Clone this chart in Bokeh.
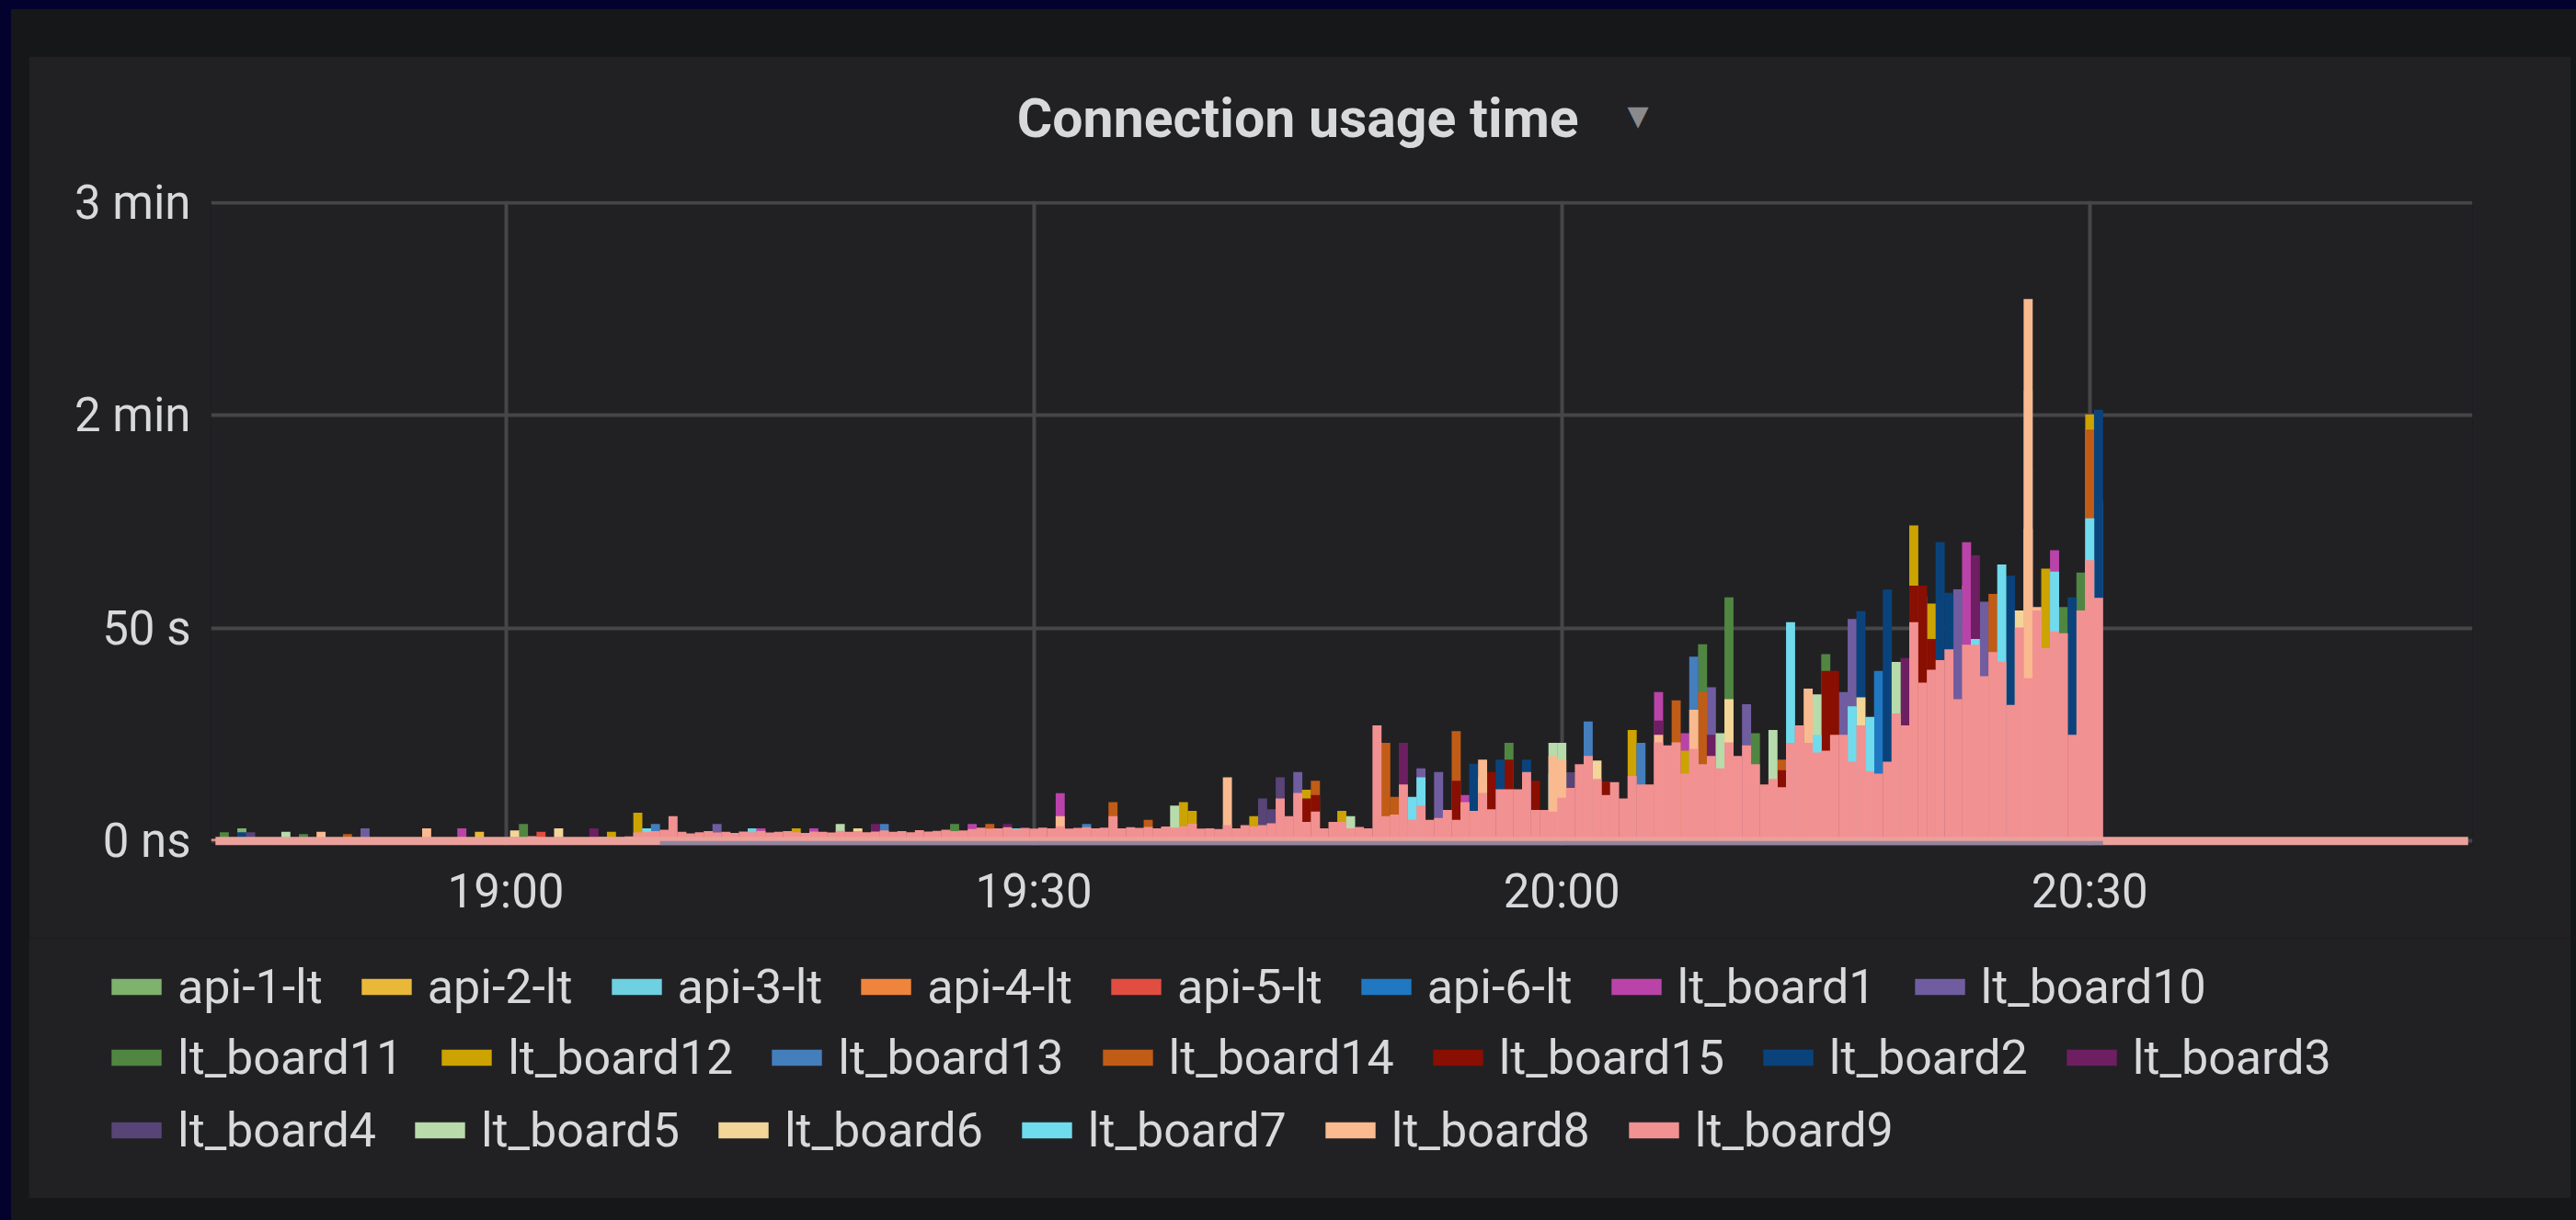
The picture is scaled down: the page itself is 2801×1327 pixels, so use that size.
import numpy as np
import pandas as pd
from bokeh.plotting import figure
from bokeh.layouts import column
from bokeh.models import (Range1d, FixedTicker, DatetimeTickFormatter, Legend,
                          LegendItem, Label, ColumnDataSource, GlobalInlineStyleSheet)
from bokeh.embed import file_html
from bokeh.resources import INLINE

# ----------------------------------------------------------------- data
chart_title = "Connection usage time"
day = "2020-06-01"
first_sample = "18:43:30"
sample_step_s = 30

x_tick_labels = ["19:00", "19:30", "20:00", "20:30"]
y_tick_values = [0, 60, 120, 180]
y_tick_labels = ["0 ns", "50 s", "2 min", "3 min"]

series_names = ["api-1-lt", "api-2-lt", "api-3-lt", "api-4-lt", "api-5-lt", "api-6-lt",
                "lt_board1", "lt_board10", "lt_board11", "lt_board12", "lt_board13",
                "lt_board14", "lt_board15", "lt_board2", "lt_board3", "lt_board4",
                "lt_board5", "lt_board6", "lt_board7", "lt_board8", "lt_board9"]
series_colors = ["#7EB26D", "#EAB839", "#6ED0E0", "#EF843C", "#E24D42", "#1F78C1",
                 "#BA43A9", "#705DA0", "#508642", "#CCA300", "#447EBC",
                 "#C15C17", "#890F02", "#0A437C", "#6D1F62", "#584477",
                 "#B7DBAB", "#F4D598", "#70DBED", "#F9BA8F", "#F29191"]

# lt_board9: one value (seconds) per 30 s sample, from 18:43:30 to 20:51:30
lt_board9 = [
    0.6, 0.8, 0.5, 0.9, 0.7, 0.5, 0.6, 0.4, 0.8, 0.6, 0.5, 0.7, 0.9, 0.6, 0.5, 0.8,
    0.6, 0.7, 0.5, 0.6, 0.8, 0.5, 0.7, 0.6, 1.0, 0.6, 0.5, 0.7, 0.8, 0.6, 0.7, 0.5,
    0.9, 0.6, 1.2, 1.0, 1.4, 0.8, 0.7, 1.1, 0.9, 0.8, 1.0, 0.9, 1.2, 1.0, 1.1, 1.3,
    2.4, 2.6, 2.8, 3.2, 7.0, 2.6, 2.2, 2.5, 2.8, 2.4, 2.6, 2.3, 2.7, 2.5, 2.9, 2.4,
    2.6, 2.8, 2.5, 2.3, 2.7, 2.6, 2.4, 2.9, 2.6, 2.8, 2.5, 2.7, 3.0, 2.6, 2.8, 2.5,
    3.1, 2.7, 2.9, 3.2, 2.8, 3.0,
    3.4, 3.8, 3.5, 3.6, 3.9, 3.4, 3.7, 3.5, 3.8, 3.6, 4.2, 3.5, 3.7, 3.9, 3.6, 3.8,
    7.0, 3.6, 3.9, 3.7, 4.0, 3.6, 4.1, 3.8, 4.2,
    4.9, 3.5, 3.6, 3.4, 4.5, 3.6, 4.5, 4.2, 4.5, 5.0, 12.0, 7.0, 13.6, 5.4, 8.3, 3.6,
    5.4, 5.4, 3.6, 4.0, 3.6, 32.6, 7.0, 7.5, 16.0, 6.0, 10.0, 6.0, 6.5, 8.8, 6.0, 11.0,
    8.5, 13.6, 9.0, 14.6, 14.6, 14.6, 19.5, 8.8, 8.8,
    8.3, 12.2, 15.0, 21.7, 24.0, 17.5, 13.0, 16.6, 12.0, 18.4, 16.0, 16.0, 27.8, 27.0,
    27.8, 19.0, 26.0, 21.7, 24.0, 20.5, 27.8, 24.0, 27.0, 21.7, 16.0, 17.5,
    15.2, 27.7, 32.6, 27.7, 25.0, 25.5, 30.0, 30.0, 22.4, 32.6, 19.7, 19.0, 22.4, 36.0,
    32.6, 61.7, 44.7, 48.3, 51.0, 54.1, 40.0, 55.4, 55.4, 46.5,
    53.3, 50.6, 38.4, 60.2, 45.9, 65.0, 54.4, 59.1, 58.6, 30.0, 65.0, 79.2, 68.6,
    0, 0, 0, 0, 0, 0, 0, 0, 0, 0, 0, 0, 0, 0, 0, 0, 0, 0, 0, 0, 0,
    0, 0, 0, 0, 0, 0, 0, 0, 0, 0, 0, 0, 0, 0, 0, 0, 0, 0, 0, 0, 0,
]

# other series: sample time -> seconds (samples not listed are ~0 / hidden)
api_1_lt = {"18:45:00": 3.6}
api_2_lt = {"18:58:30": 2.6}
api_3_lt = {"19:14:00": 3.6}
api_4_lt = {"20:23:00": 72.0}
api_5_lt = {"19:02:00": 2.6}
api_6_lt = {"20:18:00": 48.0}
lt_board1 = {"18:57:30": 3.6, "19:14:30": 3.6, "19:17:30": 3.6, "19:26:30": 4.8,
             "19:31:30": 13.5, "19:54:30": 13.0, "20:05:30": 42.0, "20:07:00": 30.4,
             "20:23:00": 84.3, "20:28:00": 82.0}
lt_board10 = {"18:52:00": 3.6, "19:12:00": 4.8, "19:45:00": 19.5, "19:52:00": 20.5,
              "19:53:00": 19.5, "20:08:30": 43.4, "20:10:30": 38.6, "20:15:30": 42.0,
              "20:16:00": 42.0, "20:16:30": 62.6, "20:22:30": 71.0, "20:24:00": 67.5,
              "20:30:30": 96.0}
lt_board11 = {"18:44:00": 2.5, "18:48:30": 2.0, "19:01:00": 4.8, "19:25:30": 4.8,
              "19:57:00": 27.7, "20:08:00": 55.5, "20:09:30": 68.7, "20:11:00": 30.4,
              "20:15:00": 52.7, "20:28:30": 66.0, "20:29:30": 75.7}
lt_board12 = {"19:06:00": 2.6, "19:07:30": 8.0, "19:16:30": 3.6, "19:38:30": 11.0,
              "19:39:00": 8.5, "19:42:30": 7.0, "19:45:30": 14.5, "19:47:30": 8.5,
              "20:04:00": 31.3, "20:07:00": 25.5, "20:20:00": 89.0, "20:21:00": 67.0,
              "20:27:30": 76.8, "20:30:00": 120.3}
lt_board13 = {"19:08:30": 4.8, "19:21:30": 4.8, "19:33:00": 4.8, "20:01:30": 33.7,
              "20:04:30": 27.7, "20:07:30": 52.0, "20:20:30": 69.0, "20:26:30": 127.0}
lt_board14 = {"18:51:00": 2.0, "19:27:30": 4.8, "19:34:30": 11.0, "19:36:30": 6.0,
              "19:46:00": 17.0, "19:50:00": 27.7, "19:50:30": 12.5, "19:54:00": 31.0,
              "20:06:30": 39.7, "20:08:00": 42.0, "20:12:30": 23.0, "20:24:30": 69.7,
              "20:30:00": 116.0}
lt_board15 = {"19:45:30": 12.0, "19:46:00": 13.0, "19:54:00": 17.0, "19:56:00": 19.5,
              "19:57:00": 23.0, "19:58:30": 17.0, "20:02:30": 16.8, "20:12:30": 20.0,
              "20:15:00": 48.0, "20:15:30": 48.0, "20:20:00": 72.0, "20:20:30": 72.0,
              "20:21:00": 57.0}
lt_board2 = {"18:45:00": 2.5, "19:55:00": 21.8, "19:56:30": 23.0, "19:58:00": 23.0,
             "20:17:00": 64.8, "20:18:30": 70.9, "20:21:30": 84.3, "20:22:00": 70.0,
             "20:25:30": 74.8, "20:29:00": 68.7, "20:30:30": 121.6}
lt_board3 = {"19:05:00": 3.6, "19:21:00": 4.8, "19:28:30": 4.8, "19:51:00": 27.7,
             "20:05:30": 34.0, "20:08:30": 30.0, "20:19:30": 51.6, "20:23:30": 80.6}
lt_board4 = {"18:45:30": 2.5, "19:43:00": 12.0, "19:43:30": 9.0, "19:44:00": 18.0,
             "20:00:30": 19.4, "20:01:00": 16.8, "20:26:30": 105.0}
lt_board5 = {"18:47:30": 2.6, "19:19:00": 4.8, "19:38:00": 10.0, "19:48:00": 7.0,
             "19:59:30": 27.7, "20:00:00": 27.7, "20:09:00": 30.4, "20:12:00": 31.3,
             "20:14:30": 41.4, "20:19:00": 50.5}
lt_board6 = {"19:00:30": 3.0, "19:03:00": 3.6, "19:20:00": 3.6, "19:37:30": 4.0,
             "20:02:00": 22.7, "20:09:30": 40.0, "20:17:00": 40.5, "20:26:00": 65.0,
             "20:26:30": 88.0}
lt_board7 = {"19:08:00": 3.6, "19:29:00": 3.6, "19:32:30": 3.6, "19:51:30": 12.5,
             "19:52:00": 18.0, "19:55:30": 18.0, "19:59:30": 19.0, "20:06:00": 26.6,
             "20:13:00": 61.7, "20:14:30": 30.0, "20:16:30": 38.0, "20:17:30": 35.0,
             "20:23:30": 57.0, "20:25:00": 78.0, "20:28:00": 76.0, "20:30:00": 91.0}
lt_board8 = {"18:49:30": 2.6, "18:55:30": 3.6, "19:31:30": 7.0, "19:41:00": 18.0,
             "19:55:30": 23.0, "19:59:30": 24.0, "20:00:00": 23.0, "20:05:30": 30.0,
             "20:07:30": 37.0, "20:14:00": 43.0, "20:26:30": 152.8, "20:27:00": 66.0}

sparse_series = {
    "api-1-lt": api_1_lt, "api-2-lt": api_2_lt, "api-3-lt": api_3_lt,
    "api-4-lt": api_4_lt, "api-5-lt": api_5_lt, "api-6-lt": api_6_lt,
    "lt_board1": lt_board1, "lt_board10": lt_board10, "lt_board11": lt_board11,
    "lt_board12": lt_board12, "lt_board13": lt_board13, "lt_board14": lt_board14,
    "lt_board15": lt_board15, "lt_board2": lt_board2, "lt_board3": lt_board3,
    "lt_board4": lt_board4, "lt_board5": lt_board5, "lt_board6": lt_board6,
    "lt_board7": lt_board7, "lt_board8": lt_board8,
}

# ----------------------------------------------------------------- build
PANEL = "#212124"
TEXT = "#d8d9da"
GRID = "#464649"

t0 = pd.Timestamp(f"{day} {first_sample}")
n = len(lt_board9)
step = pd.Timedelta(seconds=sample_step_s)
times = pd.DatetimeIndex([t0 + k * step for k in range(n)])


def to_ms(ts):
    return ts.value / 1e6


def densify(spikes):
    arr = np.zeros(n)
    for t, v in spikes.items():
        k = int((pd.Timestamp(f"{day} {t}") - t0) / step)
        arr[k] = v
    return arr


values = {name: densify(sp) for name, sp in sparse_series.items()}
values["lt_board9"] = np.array(lt_board9, dtype=float)

x_start = times[0] - step / 2
x_end = times[-1] + step / 2

p = figure(width=2764, height=959, x_axis_type="datetime",
           output_backend="svg", toolbar_location=None,
           x_range=Range1d(x_start, x_end), y_range=Range1d(-1.2, 180.5),
           min_border_left=198, min_border_right=107,
           min_border_top=157, min_border_bottom=101,
           background_fill_color=PANEL, border_fill_color=PANEL,
           outline_line_color=None)
p.frame_align = False
p.margin = (61, 0, 0, 31)
p.stylesheets = [GlobalInlineStyleSheet(css=(
    "html, body { margin: 0 !important; padding: 0 !important; }"
    "html { background: #161719; height: 100%;"
    " box-shadow: inset 12px 10px 0 0 #03022e; }"
    "body { background: transparent; }"))]

bar_w = sample_step_s * 1000 * 1.03
for name, color in zip(series_names, series_colors):
    vals = values[name]
    mask = vals > 0
    src = ColumnDataSource(dict(x=times[mask], top=vals[mask]))
    p.vbar(x="x", top="top", bottom=0, width=bar_w, source=src,
           fill_color=color, line_color=None)

# zero-level outline band (pink), darker under the busy period
p.quad(left=[x_start + step / 2], right=[x_end - step / 2], bottom=[-1.2], top=[1.2],
       fill_color="#EBA19B", line_color=None)
busy = np.where(values["lt_board9"] >= 3.0)[0]
p.quad(left=[times[busy[0]] - step / 2], right=[times[busy[-1]] + step / 2],
       bottom=[-1.2], top=[0.0], fill_color="#7d809e", fill_alpha=0.8, line_color=None)

# axes
p.xaxis.ticker = FixedTicker(ticks=[to_ms(pd.Timestamp(f"{day} {lab}")) for lab in x_tick_labels])
hm = "%H:%M"
p.xaxis.formatter = DatetimeTickFormatter(microseconds=hm, milliseconds=hm, seconds=hm,
                                          minsec=hm, minutes=hm, hourmin=hm, hours=hm,
                                          days=hm, months=hm, years=hm)
p.yaxis.ticker = FixedTicker(ticks=y_tick_values)
p.yaxis.major_label_overrides = dict(zip(y_tick_values, y_tick_labels))
for ax in (p.xaxis[0], p.yaxis[0]):
    ax.axis_line_color = None
    ax.major_tick_line_color = None
    ax.minor_tick_line_color = None
    ax.major_tick_out = 0
    ax.major_tick_in = 0
    ax.major_label_text_color = TEXT
    ax.major_label_text_font = "Roboto"
    ax.major_label_text_font_size = "51px"
p.xaxis.major_label_standoff = 20
p.yaxis.major_label_standoff = 22

p.xgrid.grid_line_color = GRID
p.ygrid.grid_line_color = GRID
p.xgrid.grid_line_width = 4
p.ygrid.grid_line_width = 4

# title + dropdown caret (in the panel above the plot area)
p.add_layout(Label(x=to_ms(pd.Timestamp(f"{day} 19:45:00")), y=203.8, text=chart_title,
                   text_align="center", text_baseline="middle",
                   text_font="Roboto", text_font_size="59px", text_font_style="bold",
                   text_color=TEXT), "above")
p.add_layout(Label(x=to_ms(pd.Timestamp(f"{day} 20:04:20")), y=204.6, text="\u25BC",
                   text_align="center", text_baseline="middle",
                   text_font="DejaVu Sans", text_font_size="30px",
                   text_color="#8a8a8c"), "above")

# legend strip: a second figure whose frame fills it, legend rows flow left to right
lf = figure(width=2764, height=283, output_backend="svg", toolbar_location=None,
            x_range=Range1d(0, 1), y_range=Range1d(0, 1),
            x_axis_location=None, y_axis_location=None,
            min_border_left=0, min_border_right=0, min_border_top=0, min_border_bottom=0,
            background_fill_color=PANEL, border_fill_color=PANEL,
            outline_line_color=None)
lf.frame_align = False
lf.grid.visible = False
lf.margin = (0, 0, 0, 31)
# legend swatch renderers (their single point lies outside the strip's range)
swatches = {nm: lf.vbar(x=[5.0], top=[0.0], width=0.1, fill_color=c, line_color=None)
            for nm, c in zip(series_names, series_colors)}

rows = [series_names[0:8], series_names[8:15], series_names[15:21]]
row_offsets = [195, 118, 39]
for names, vy in zip(rows, row_offsets):
    leg = Legend(items=[LegendItem(label=nm, renderers=[swatches[nm]]) for nm in names],
                 orientation="horizontal", location=(83, vy),
                 label_text_font="Roboto", label_text_font_size="52px",
                 label_text_color=TEXT, label_height=70,
                 glyph_width=68, glyph_height=22, label_standoff=11, spacing=35,
                 padding=0, margin=0, background_fill_alpha=0,
                 border_line_color=None)
    lf.add_layout(leg)

page = column(p, lf, spacing=0)
open("out.html", "w").write(file_html(page, INLINE))
